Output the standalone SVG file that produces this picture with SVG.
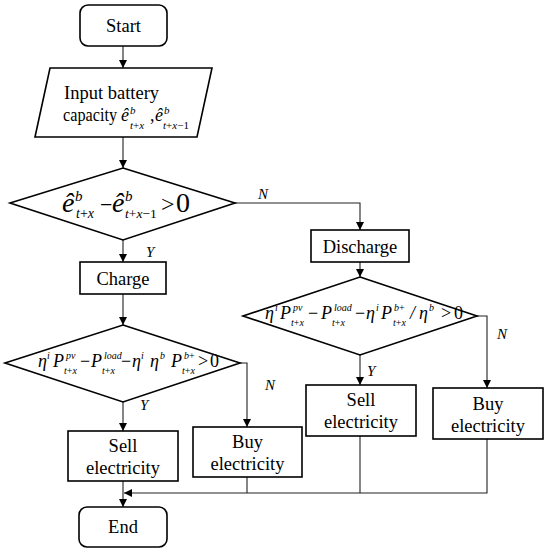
<svg xmlns="http://www.w3.org/2000/svg" width="546" height="550" viewBox="0 0 546 550">
<style>
.shape{fill:#fff;stroke:#000;stroke-width:1.6}
.conn{fill:none;stroke:#222;stroke-width:1.1}
text{font-family:'Liberation Serif','DejaVu Serif',serif}
.t{font-size:18.5px;fill:#000}
.m{font-style:italic;fill:#000}
.u{font-style:normal}
.lab{font-style:italic;font-size:15px;fill:#000}
</style>
<defs>
<marker id="arr" viewBox="0 0 10 10" refX="10" refY="5" markerWidth="8" markerHeight="8" markerUnits="userSpaceOnUse" orient="auto">
<path d="M0,0 L10,5 L0,10 z" fill="#000"/>
</marker>
</defs>
<rect width="546" height="550" fill="#fff"/>

<g id="connectors">
<line class="conn" x1="123" y1="46" x2="123" y2="68" marker-end="url(#arr)"/>
<line class="conn" x1="123" y1="137" x2="123" y2="168" marker-end="url(#arr)"/>
<line class="conn" x1="123" y1="240" x2="123" y2="262" marker-end="url(#arr)"/>
<polyline class="conn" points="235,203 360,203 360,230" marker-end="url(#arr)"/>
<line class="conn" x1="123" y1="294" x2="123" y2="325" marker-end="url(#arr)"/>
<line class="conn" x1="360" y1="262" x2="360" y2="277" marker-end="url(#arr)"/>
<line class="conn" x1="123" y1="402" x2="123" y2="431" marker-end="url(#arr)"/>
<polyline class="conn" points="240,363 247,363 247,427" marker-end="url(#arr)"/>
<line class="conn" x1="360" y1="355" x2="360" y2="385" marker-end="url(#arr)"/>
<polyline class="conn" points="477,316 487,316 487,388" marker-end="url(#arr)"/>
<line class="conn" x1="123" y1="481" x2="123" y2="507" marker-end="url(#arr)"/>
<line class="conn" x1="247" y1="477" x2="247" y2="493"/>
<line class="conn" x1="360" y1="436" x2="360" y2="493"/>
<polyline class="conn" points="487,439 487,493 124,493" marker-end="url(#arr)"/>
<text class="lab" x="258" y="199">N</text>
<text class="lab" x="146" y="257">Y</text>
<text class="lab" x="497" y="339">N</text>
<text class="lab" x="367" y="376">Y</text>
<text class="lab" x="265" y="390">N</text>
<text class="lab" x="140" y="410">Y</text>
</g>

<g id="start">
<rect class="shape" x="80" y="5" width="87" height="41" rx="8"/>
<text class="t" x="123.5" y="32" text-anchor="middle">Start</text>
</g>

<g id="input">
<polygon class="shape" points="50,68 212,68 197,137 35,137"/>
<text class="t" x="64" y="99" font-size="17.5">Input battery</text>
<text class="t" x="63" y="121" font-size="17.5" textLength="54" lengthAdjust="spacingAndGlyphs">capacity</text>
<text class="m" font-size="18"><tspan x="121" y="121">ê</tspan><tspan x="130" y="114" font-size="11">b</tspan><tspan x="130" y="129" font-size="11">t<tspan class="u">+</tspan>x</tspan><tspan x="150" y="121" class="u">,</tspan><tspan x="155" y="121">ê</tspan><tspan x="164" y="114" font-size="11">b</tspan><tspan x="163" y="129" font-size="11">t<tspan class="u">+</tspan>x<tspan class="u">−1</tspan></tspan></text>
</g>

<g id="decision1">
<polygon class="shape" points="123,168 235,203 123,240 10,203"/>
<text class="m" font-size="28"><tspan x="62" y="212">ê</tspan><tspan x="75" y="201" font-size="15">b</tspan><tspan x="76" y="218" font-size="14">t<tspan class="u">+</tspan>x</tspan><tspan x="100" y="212" class="u" font-size="22">−</tspan><tspan x="112" y="212">ê</tspan><tspan x="125" y="201" font-size="15">b</tspan><tspan x="125" y="218" font-size="13.5">t<tspan class="u">+</tspan>x<tspan class="u">−1</tspan></tspan><tspan x="161" y="212" class="u" font-size="24">&gt;</tspan><tspan x="176" y="212" class="u">0</tspan></text>
</g>

<g id="charge">
<rect class="shape" x="80" y="262" width="86" height="32"/>
<text class="t" x="123" y="285" text-anchor="middle">Charge</text>
</g>

<g id="discharge">
<rect class="shape" x="311" y="230" width="98" height="32"/>
<text class="t" x="360" y="253" text-anchor="middle">Discharge</text>
</g>

<g id="decision2">
<polygon class="shape" points="360,277 477,316 360,355 243,316"/>
<text class="m" font-size="18"><tspan x="265" y="319">η</tspan><tspan x="275" y="311" font-size="10">i</tspan><tspan x="280" y="319">P</tspan><tspan x="293" y="311" font-size="10">pv</tspan><tspan x="291" y="326" font-size="10">t<tspan class="u">+</tspan>x</tspan><tspan x="308" y="319" class="u">−</tspan><tspan x="321" y="319">P</tspan><tspan x="334" y="311" font-size="10">load</tspan><tspan x="332" y="326" font-size="10">t<tspan class="u">+</tspan>x</tspan><tspan x="355" y="319" class="u">−</tspan><tspan x="366" y="319">η</tspan><tspan x="376" y="311" font-size="10">i</tspan><tspan x="381" y="319">P</tspan><tspan x="394" y="311" font-size="10">b<tspan class="u">+</tspan></tspan><tspan x="393" y="326" font-size="10">t<tspan class="u">+</tspan>x</tspan><tspan x="410" y="319">/</tspan><tspan x="419" y="319">η</tspan><tspan x="429" y="311" font-size="10">b</tspan><tspan x="441" y="319" class="u">&gt;</tspan><tspan x="454" y="319" class="u">0</tspan></text>
</g>

<g id="decision3">
<polygon class="shape" points="123,325 240,363 123,402 5,363"/>
<text class="m" font-size="18"><tspan x="38" y="367">η</tspan><tspan x="47" y="359" font-size="10">i</tspan><tspan x="53" y="367">P</tspan><tspan x="66" y="359" font-size="10">pv</tspan><tspan x="64" y="374" font-size="10">t<tspan class="u">+</tspan>x</tspan><tspan x="80" y="367" class="u">−</tspan><tspan x="91" y="367">P</tspan><tspan x="104" y="359" font-size="10">load</tspan><tspan x="102" y="374" font-size="10">t<tspan class="u">+</tspan>x</tspan><tspan x="121" y="367" class="u">−</tspan><tspan x="132" y="367">η</tspan><tspan x="141" y="359" font-size="10">i</tspan><tspan x="150" y="367">η</tspan><tspan x="160" y="359" font-size="10">b</tspan><tspan x="171" y="367">P</tspan><tspan x="184" y="359" font-size="10">b<tspan class="u">+</tspan></tspan><tspan x="182" y="374" font-size="10">t<tspan class="u">+</tspan>x</tspan><tspan x="198" y="367" class="u">&gt;</tspan><tspan x="210" y="367" class="u">0</tspan></text>
</g>

<g id="sell1">
<rect class="shape" x="68" y="431" width="110" height="50"/>
<text class="t" x="123" y="452" text-anchor="middle">Sell</text>
<text class="t" x="123" y="474" text-anchor="middle">electricity</text>
</g>

<g id="buy1">
<rect class="shape" x="193" y="427" width="109" height="50"/>
<text class="t" x="247.5" y="448" text-anchor="middle">Buy</text>
<text class="t" x="247.5" y="470" text-anchor="middle">electricity</text>
</g>

<g id="sell2">
<rect class="shape" x="306" y="385" width="110" height="51"/>
<text class="t" x="361" y="406" text-anchor="middle">Sell</text>
<text class="t" x="361" y="428" text-anchor="middle">electricity</text>
</g>

<g id="buy2">
<rect class="shape" x="433" y="388" width="110" height="51"/>
<text class="t" x="488" y="410" text-anchor="middle">Buy</text>
<text class="t" x="488" y="432" text-anchor="middle">electricity</text>
</g>

<g id="end">
<rect class="shape" x="79" y="507" width="88" height="40" rx="8"/>
<text class="t" x="123" y="533" text-anchor="middle">End</text>
</g>
</svg>
